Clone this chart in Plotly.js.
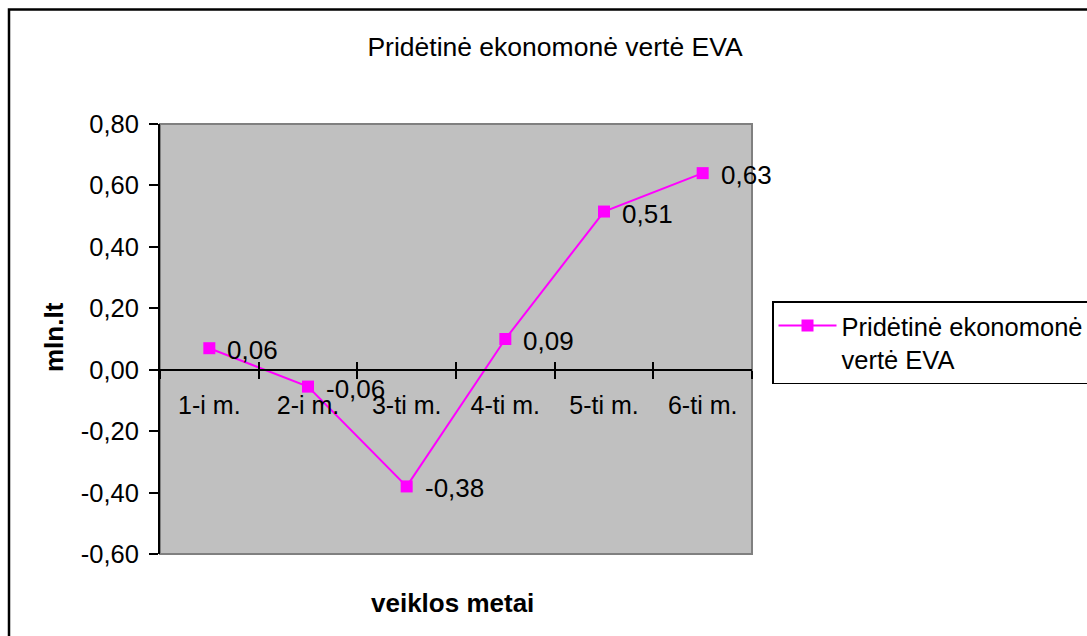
<!DOCTYPE html>
<html>
<head>
<meta charset="utf-8">
<script src="https://cdn.plot.ly/plotly-3.0.1.min.js"></script>
<style>html,body{margin:0;padding:0;background:#fff;}#chart{width:1087px;height:636px;}</style>
</head>
<body>
<div id="chart"></div>
<script>
// ---- data ----
const categories = ['1-i m.', '2-i m.', '3-ti m.', '4-ti m.', '5-ti m.', '6-ti m.'];
const evaValues = [0.07, -0.055, -0.38, 0.10, 0.515, 0.64];
const evaLabels = ['0,06', '-0,06', '-0,38', '0,09', '0,51', '0,63'];
const seriesName = 'Pridėtinė ekonomonė<br>vertė EVA';
const chartTitle = 'Pridėtinė ekonomonė vertė EVA';
const xTitle = 'veiklos metai';
const yTitle = 'mln.lt';
const yTickVals = [0.8, 0.6, 0.4, 0.2, 0, -0.2, -0.4, -0.6];
const yTickText = ['0,80', '0,60', '0,40', '0,20', '0,00', '-0,20', '-0,40', '-0,60'];

const yMin = -0.6, yMax = 0.8;
const zeroPos = (0 - yMin) / (yMax - yMin);
const FONT = 'Arial, "Liberation Sans", sans-serif';
const boundaries = categories.slice(1).map((_, i) => i + 0.5);

const traces = [
  {
    type: 'scatter', mode: 'lines+markers', name: seriesName,
    x: categories, y: evaValues,
    line: {color: '#FF00FF', width: 2},
    marker: {color: '#FF00FF', symbol: 'square', size: 12},
    hoverinfo: 'skip'
  },
  {type: 'scatter', x: [], y: [], xaxis: 'x2', yaxis: 'y', showlegend: false, hoverinfo: 'skip'}
];

const annotations = categories.map((c, i) => ({
  x: c, y: evaValues[i], xref: 'x', yref: 'y', text: evaLabels[i],
  showarrow: false, xanchor: 'left', yanchor: 'middle', xshift: 16, yshift: -2,
  font: {family: FONT, size: 26, color: '#000'}
}));
annotations.push({
  xref: 'paper', yref: 'paper', x: (452 - 160) / 592, y: (554 - 603) / 430, text: '<b>' + xTitle + '</b>',
  showarrow: false, xanchor: 'center', yanchor: 'middle',
  font: {family: FONT, size: 26, color: '#000'}
});
annotations.push({
  xref: 'paper', yref: 'paper', x: (54 - 160) / 592, y: (554 - 337) / 430, text: '<b>' + yTitle + '</b>',
  showarrow: false, xanchor: 'center', yanchor: 'middle', textangle: -90,
  font: {family: FONT, size: 26, color: '#000'}
});

const layout = {
  width: 1087, height: 636,
  margin: {l: 160, r: 335, t: 124, b: 82, autoexpand: false},
  paper_bgcolor: '#ffffff', plot_bgcolor: '#C0C0C0',
  font: {family: FONT, size: 25, color: '#000'},
  title: {text: chartTitle, xref: 'container', yref: 'container', x: 555 / 1087, y: 1 - 47 / 636,
          xanchor: 'center', yanchor: 'middle', font: {family: FONT, size: 26.5, color: '#000'}},
  showlegend: true,
  legend: {x: (772 - 160) / 592, y: (554 - 301) / 430, xanchor: 'left', yanchor: 'top',
           bgcolor: '#fff', bordercolor: '#000', borderwidth: 1.5, valign: 'top',
           itemwidth: 58, font: {family: FONT, size: 25.5, color: '#000'}},
  xaxis: {
    type: 'category', range: [-0.5, categories.length - 0.5], anchor: 'free', position: zeroPos,
    showline: true, linecolor: '#000', linewidth: 2, showgrid: false, zeroline: false,
    tickson: 'boundaries', ticks: 'outside', ticklen: 8, tickwidth: 2, tickcolor: '#000',
    ticklabelstandoff: 13,
    tickfont: {family: FONT, size: 25, color: '#000'}, fixedrange: true
  },
  xaxis2: {
    type: 'linear', overlaying: 'x', anchor: 'free', position: zeroPos,
    range: [-0.5, categories.length - 0.5], tickmode: 'array', tickvals: boundaries,
    ticks: 'inside', ticklen: 8, tickwidth: 2, tickcolor: '#000',
    showticklabels: false, showline: false, showgrid: false, zeroline: false, fixedrange: true
  },
  yaxis: {
    range: [yMin, yMax], tickmode: 'array', tickvals: yTickVals, ticktext: yTickText,
    showline: true, linecolor: '#000', linewidth: 2, showgrid: false, zeroline: false,
    ticks: 'outside', ticklen: 9, tickwidth: 2, tickcolor: '#000', ticklabelstandoff: 5,
    tickfont: {family: FONT, size: 25.5, color: '#000'}, fixedrange: true
  },
  shapes: [
    {type: 'rect', xref: 'paper', yref: 'paper', x0: 0, x1: 1, y0: 0, y1: 1,
     line: {color: '#808080', width: 2}, layer: 'below'},
    {type: 'rect', xref: 'paper', yref: 'paper', x0: (9 - 160) / 592, x1: (1110 - 160) / 592,
     y0: (554 - 660) / 430, y1: (554 - 9.5) / 430, line: {color: '#000', width: 2.5}, layer: 'below'}
  ],
  annotations: annotations
};

Plotly.newPlot('chart', traces, layout, {staticPlot: true, displayModeBar: false});
</script>
</body>
</html>
